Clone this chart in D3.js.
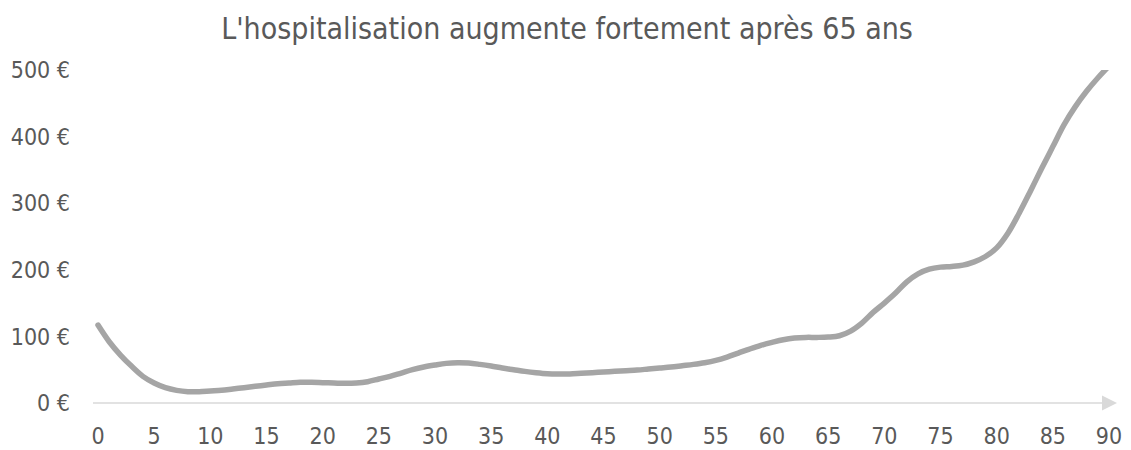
<!DOCTYPE html>
<html>
<head>
<meta charset="utf-8">
<script src="https://cdn.jsdelivr.net/npm/d3@7"></script>
<style>
  body { margin: 0; background: #fff; }
  text { font-family: "DejaVu Sans Condensed", "DejaVu Sans", sans-serif; fill: #595959; }
</style>
</head>
<body>
<div id="chart"></div>
<script>
// ages (x) and cost per person in euros (y)
var ages = d3.range(0, 91);
var costs = [
	117, 92, 72, 55, 40, 30, 23, 19, 17, 17,
	18, 19, 21, 23, 25, 27, 29, 30, 31, 31,
	30.5, 30, 29.5, 30, 32, 36, 40, 45, 50, 54,
	57, 59.5, 60.5, 60, 58, 55.5, 52.5, 50, 47.5, 45.5,
	44, 43.5, 43.5, 44.5, 45.5, 46.5, 47.5, 48.5, 49.5, 51,
	52.5, 54, 56, 58, 60.5, 64, 69, 75, 81, 86.5,
	91, 95, 97.5, 98.5, 98.5, 99, 101, 108, 120, 136,
	150, 165, 182, 194, 201, 204, 205, 207, 212, 220,
	233, 255, 285, 318, 352, 385, 418, 445, 468, 488,
	506
];
var xTicks = d3.range(0, 91, 5);
var yTicks = [0, 100, 200, 300, 400, 500];
var title = "L'hospitalisation augmente fortement après 65 ans";

var width = 1131, height = 450;

var svg = d3.select("#chart")
	.append("svg")
	.attr("width", width)
	.attr("height", height);

var x = d3.scaleLinear().domain([0, 90]).range([98, 1109]);
var y = d3.scaleLinear().domain([0, 500]).range([403, 70]);

// plot area clip (values above 500 are cut like in the original)
svg.append("clipPath")
	.attr("id", "plot")
	.append("rect")
	.attr("x", 0)
	.attr("y", y(500))
	.attr("width", width)
	.attr("height", height - y(500));

// title
svg.append("text")
	.attr("x", 567)
	.attr("y", 39)
	.attr("text-anchor", "middle")
	.style("font-size", "30px")
	.text(title);

// y labels (no gridlines)
svg.selectAll(".ylab")
	.data(yTicks)
	.enter()
	.append("text")
	.attr("class", "ylab")
	.attr("x", 70)
	.attr("y", function(d) { return y(d); })
	.attr("dy", "0.36em")
	.attr("text-anchor", "end")
	.style("font-size", "23px")
	.text(function(d) { return d + " €"; });

// x labels
svg.selectAll(".xlab")
	.data(xTicks)
	.enter()
	.append("text")
	.attr("class", "xlab")
	.attr("x", function(d) { return x(d); })
	.attr("y", 444)
	.attr("text-anchor", "middle")
	.style("font-size", "23px")
	.text(function(d) { return d; });

// x axis line with arrow head
svg.append("line")
	.attr("x1", 93)
	.attr("x2", 1104)
	.attr("y1", y(0))
	.attr("y2", y(0))
	.style("stroke", "#d9d9d9")
	.style("stroke-width", 1.5);

svg.append("path")
	.attr("d", "M1102," + (y(0) - 7.5) + "L1117," + y(0) + "L1102," + (y(0) + 7.5) + "Z")
	.style("fill", "#d9d9d9");

// the curve
var line = d3.line()
	.x(function(d, i) { return x(ages[i]); })
	.y(function(d) { return y(d); })
	.curve(d3.curveCatmullRom.alpha(0.5));

svg.append("path")
	.datum(costs)
	.attr("d", line)
	.attr("clip-path", "url(#plot)")
	.style("fill", "none")
	.style("stroke", "#a5a5a5")
	.style("stroke-width", 5.5)
	.style("stroke-linecap", "round");
</script>
</body>
</html>
